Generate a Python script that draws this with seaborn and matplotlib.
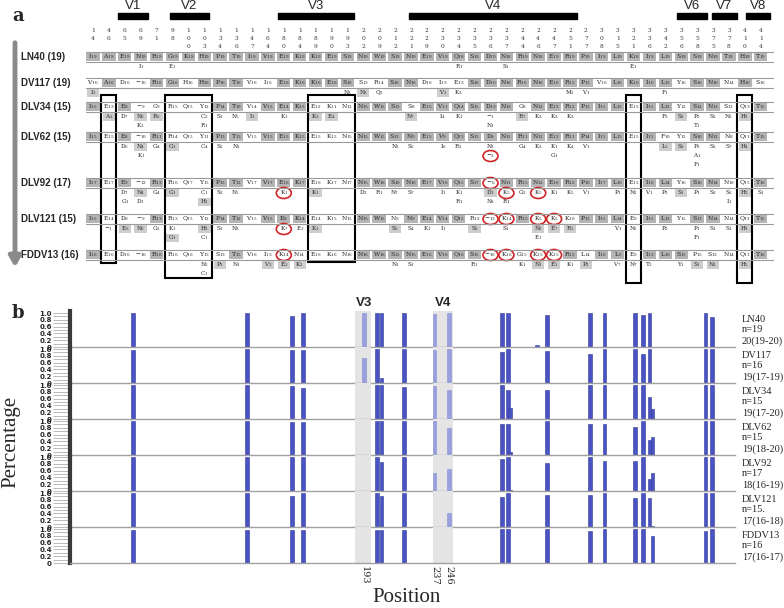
import matplotlib
matplotlib.use("Agg")
import matplotlib.pyplot as plt
import numpy as np
import pandas as pd
import seaborn as sns
from matplotlib.patches import Ellipse, Rectangle

# ---------------- panel a: alignment table ----------------
columns = [14, 46, 65, 69, 71, 98, 100, 103, 134, 136, 147, 164, 180, 184, 189, 190,
           193, 202, 209, 212, 221, 229, 230, 234, 235, 236, 237, 244, 246, 247, 251,
           277, 308, 315, 321, 336, 342, 356, 358, 375, 378, 410, 414]

strains = ["LN40 (19)", "DV117 (19)", "DLV34 (15)", "DLV62 (15)", "DLV92 (17)",
           "DLV121 (15)", "FDDV13 (16)"]

main_rows = [
    "I19 A19 E19 N19 R19 G19 K19 H19 P19 T19 I19 V19 E19 K19 K19 E19 S19 N19 W19 S19 "
    "N19 E19 V19 Q18 S19 D19 N18 R19 N19 E19 R19 P19 I19 L19 K18 I19 L19 S19 S19 N19 T19 H19 T19",
    "V16 A16 D16 -16 R16 G16 H16 H16 P16 T16 V16 I16 E16 K16 K16 E16 S16 S13 R14 S16 "
    "N16 D16 I13 E13 S16 D16 N16 R16 N16 E16 R15 P15 V16 L16 K16 I16 L15 Y16 S16 N16 N14 H16 S16",
    "I15 E13 E8 -9 G9 R15 Q15 Y12 P14 T10 V14 V15 E14 K15 E12 K11 N12 N15 W15 S15 "
    "S8 E15 V11 Q14 S15 D13 N13 G8 N12 E12 R12 P15 I15 L15 E15 I15 L12 Y12 S12 N13 S13 Q13 T15",
    "I15 E15 E8 -10 R11 R14 Q15 Y11 P13 T13 V15 V15 E15 K15 E15 K15 N15 N15 W15 S13 "
    "N9 E15 V9 Q13 S15 D9 N15 R11 N12 E13 R11 P14 I15 L15 E15 I15 F10 Y12 S10 N12 N8 Q11 T15",
    "I17 E17 E9 -12 R13 R16 Q17 Y15 P15 T12 V17 V17 E16 K17 E16 K17 N17 N15 W16 S10 "
    "N10 E17 V16 Q15 S17 -6 N11 R15 N12 E16 R12 P16 I17 L16 E15 I16 L14 Y16 S16 N14 N10 Q15 T16",
    "I15 E14 D9 -9 R13 R13 Q15 Y12 P14 T12 V15 V15 E8 K14 E14 K15 N15 N15 W15 N9 "
    "N9 E14 V14 Q15 R12 -13 K14 R15 K5 K5 K10 P15 I15 L14 E9 I15 L13 Y15 S13 N14 N14 Q12 T15",
    "I16 E16 D16 -16 R16 R16 Q16 Y13 S13 T15 V16 I13 K14 N14 E16 K16 N16 N16 W16 S15 "
    "N15 E16 V16 Q16 S15 -16 K16 G15 K15 K15 R15 L14 I16 L9 E9 I13 L16 S15 P15 S13 N14 Q11 T16",
]

# minor variants below each main row, one string per sub-row (position:residue+count)
sub_rows = [
    ["69:I1 98:E1 234:R1 237:S1 321:E1"],
    ["14:I2 193:N3 202:N3 209:Q2 230:V3 234:K3 251:M1 277:V1 342:F1"],
    ["46:A2 65:D7 69:N6 71:R6 103:C2 134:S1 136:N5 147:I1 180:K1 189:K3 190:E4 221:N7 "
     "230:I4 234:K1 236:-1 244:R7 246:K3 247:K3 251:K3 342:F3 356:S3 358:P3 375:S2 378:N2 410:H2",
     "69:K2 103:R1 236:N1 358:T1"],
    ["65:D6 69:N4 71:G4 98:G1 103:C4 134:S2 136:N2 212:N2 221:S6 230:I6 234:R2 236:N3 "
     "244:G4 246:K3 247:K1 251:K4 277:V1 342:L5 356:S3 358:P3 375:S3 378:S7 410:H4",
     "69:K1 236:-3 247:G1 358:A1",
     "358:F1"],
    ["65:D7 69:N4 71:G4 98:G1 103:C1 134:S2 136:N5 180:K1 189:K1 202:D2 209:R1 212:N7 "
     "221:S7 230:I1 234:K1 236:D3 237:K5 244:G2 246:K5 247:K1 251:K5 277:V1 315:P1 321:N2 "
     "336:V1 342:P3 356:S1 358:P1 375:S3 378:S6 410:H2 414:S1",
     "65:G1 69:D1 103:H1 234:R1 236:N8 237:R1 378:I1"],
    ["46:-1 65:E6 69:N6 71:G2 98:K1 103:H2 134:S1 136:N3 180:K7 184:E1 189:K1 212:S6 "
     "221:S4 229:K1 230:I1 235:S3 237:S1 246:N6 247:E7 251:R5 315:V1 321:N6 342:P2 358:P1 "
     "375:S1 378:S1 410:H3",
     "98:G1 103:C1 246:E1 358:F1"],
    ["103:N2 134:P3 136:N1 164:V3 180:E2 184:K2 212:N1 221:S1 235:R1 244:K1 246:N1 247:E1 "
     "251:K1 277:P2 315:V7 321:N7 336:T3 356:Y1 358:S1 375:N3 410:H5",
     "103:C1"],
]

# red circles: (strain index, sub-row level with 0 = main row, position)
circles = [(3, 2, 236),
           (4, 0, 236), (4, 1, 237), (4, 1, 246), (4, 1, 180),
           (5, 0, 236), (5, 0, 237), (5, 0, 246), (5, 0, 247), (5, 1, 180),
           (6, 0, 236), (6, 0, 237), (6, 0, 246), (6, 0, 247), (6, 0, 180)]

# black boxes: first column, last column, bottom edge (px)
boxes = [(46, 46, 263), (98, 103, 278), (189, 193, 262), (321, 321, 283), (410, 410, 283)]

# variable regions drawn above the table: label, left px, right px
v_regions = [("V1", 118, 148), ("V2", 170, 209), ("V3", 278, 354), ("V4", 409, 577),
             ("V6", 677, 707), ("V7", 712, 737), ("V8", 746, 770)]

# ---------------- panel b: residue frequency bars ----------------
bar_positions = [49, 120, 148, 155, 193, 201, 204, 218, 237, 246, 279, 283, 284, 301,
                 307, 334, 343, 362, 367, 371, 373, 406, 410]
light_positions = [193, 237, 246]

panel_names = ["LN40", "DV117", "DLV34", "DLV62", "DLV92", "DLV121", "FDDV13"]
panel_n = ["n=19", "n=16", "n=15", "n=15", "n=17", "n=15.", "n=16"]
panel_len = ["20(19-20)", "19(17-19)", "19(17-20)", "19(18-20)", "18(16-19)",
             "17(16-18)", "17(16-17)"]

heights = {
    "LN40":   [1.0, 1.0, 0.92, 1.0, 1.0, 1.0, 1.0, 1.0, 0.98, 1.0, 1.0, 1.0, 0, 0.07,
               0.95, 1.0, 1.0, 1.0, 0.95, 1.0, 0, 1.0, 0.87],
    "DV117":  [0.98, 1.0, 0.98, 0.98, 0.73, 1.0, 0.16, 1.0, 0.98, 1.0, 0.91, 1.0, 0, 0,
               0.93, 0.86, 1.0, 1.0, 0.86, 1.0, 0, 1.0, 1.0],
    "DLV34":  [0.99, 0.99, 0.97, 0.92, 0, 1.0, 1.0, 0.93, 0.97, 0.84, 0.99, 0.84, 0.32, 0,
               0.84, 1.0, 1.0, 1.0, 1.0, 0.64, 0.30, 1.0, 1.0],
    "DLV62":  [1.0, 1.0, 0.97, 0.97, 0, 1.0, 1.0, 1.0, 0.99, 0.78, 0.90, 0.90, 0.10, 0,
               1.0, 0.90, 0.90, 0.83, 1.0, 0.45, 0.53, 1.0, 1.0],
    "DLV92":  [1.0, 1.0, 1.0, 1.0, 0, 1.0, 0.85, 1.0, 0.52, 0.64, 0.94, 1.0, 0.02, 0,
               0.82, 1.0, 0.87, 0.87, 1.0, 0.34, 0.52, 1.0, 1.0],
    "DLV121": [1.0, 1.0, 0.92, 1.0, 0, 1.0, 0.90, 1.0, 0, 0.40, 0.87, 1.0, 0, 0,
               0.93, 0.93, 1.0, 0.85, 1.0, 0.85, 0.02, 1.0, 1.0],
    "FDDV13": [0.98, 0.98, 0.98, 0.98, 0, 0.98, 0.98, 0.98, 0, 0, 1.0, 1.0, 0, 0,
               1.0, 0.93, 1.0, 1.0, 1.0, 0, 0.80, 0.93, 1.0],
}
v3_span = (187.5, 197.5)
v4_span = (236.0, 248.5)
x_range = (9.7, 424.4)

# ---------------- drawing ----------------
sns.set_style("white")
plt.rcParams["font.family"] = ["DejaVu Sans"]
plt.rcParams["mathtext.fontset"] = "dejavuserif"

W, H = 784, 608
fig = plt.figure(figsize=(W / 100, H / 100), dpi=100)

# overlay axis in pixel units for panel a and free text
pa = fig.add_axes([0, 0, 1, 1])
pa.set_xlim(0, W)
pa.set_ylim(H, 0)
pa.axis("off")

col_x0, col_dx = 93.0, 15.9
row_y = [57, 83, 107, 137, 183, 219, 255]


def col_x(k):
    return col_x0 + col_dx * k


def cell_text(tok):
    res = "\u2212" if tok[0] == "-" else tok[0]
    return f"{res}$_{{{tok[1:]}}}$"


serif = "DejaVu Serif"
sans = "Liberation Sans"
pa.text(18, 16, "a", fontsize=13, fontweight="bold", family=serif, ha="center", va="center")
for label, x0, x1 in v_regions:
    pa.add_patch(Rectangle((x0, 13), x1 - x0, 6, color="black"))
    pa.text((x0 + x1) / 2, 6, label, fontsize=9.5, family=sans, ha="center", va="center")

for k, p in enumerate(columns):
    for j, d in enumerate(str(p)):
        pa.text(col_x(k), 30 + 8.2 * j, d, fontsize=4.2, family=serif, ha="center",
                va="center", color="#333")

ref = [t[0] for t in main_rows[0].split()]
for i, name in enumerate(strains):
    y = row_y[i]
    pa.text(21, y, name, fontsize=7, fontweight="bold", family=sans, ha="left",
            va="center")
    for yy in (y - 4.8, y + 4.8):
        pa.plot([86, 773], [yy, yy], color="#9a9a9a", lw=0.8)
    for k, tok in enumerate(main_rows[i].split()):
        x = col_x(k)
        if tok[0] == ref[k]:
            pa.add_patch(Rectangle((x - 6.7, y - 4.3), 13.4, 8.6, color="#b4b4b4", lw=0))
        pa.text(x, y, cell_text(tok), fontsize=4.3, family=serif, ha="center",
                va="center", color="#222")
    for lev, s in enumerate(sub_rows[i]):
        ys = y + 10 + 9 * lev
        for tok in s.split():
            pos, var = tok.split(":")
            k = columns.index(int(pos))
            x = col_x(k)
            if var[0] == ref[k]:
                pa.add_patch(Rectangle((x - 6.2, ys - 3.8), 12.4, 7.6, color="#cdcdcd", lw=0))
            pa.text(x, ys, cell_text(var), fontsize=4.1, family=serif, ha="center",
                    va="center", color="#222")

for i, lev, pos in circles:
    y = row_y[i] + (0 if lev == 0 else 10 + 9 * (lev - 1))
    pa.add_patch(Ellipse((col_x(columns.index(pos)), y), 15, 11, fill=False,
                         edgecolor="#d02525", lw=1.2))

for c0, c1, bottom in boxes:
    x0 = col_x(columns.index(c0)) - 7.5
    x1 = col_x(columns.index(c1)) + 7.5
    pa.add_patch(Rectangle((x0, 95), x1 - x0, bottom - 95, fill=False,
                           edgecolor="black", lw=1.5))

pa.annotate("", xy=(15, 270), xytext=(15, 40),
            arrowprops=dict(arrowstyle="-|>,head_width=0.35,head_length=0.6",
                            color="#8a8a8a", lw=3.5))

# panel b
records = []
for name in panel_names:
    for p, h in zip(bar_positions, heights[name]):
        records.append({"strain": name, "position": p, "height": h,
                        "kind": "light" if p in light_positions else "normal"})
df = pd.DataFrame(records)

bar_dark = "#4a53c4"
bar_light = "#9aa0de"
left_px, right_px = 70, 735
row_h, top_base = 36, 347

for i, name in enumerate(panel_names):
    base = top_base + row_h * i
    ax = fig.add_axes([left_px / W, 1 - base / H, (right_px - left_px) / W, row_h / H])
    ax.patch.set_alpha(0)
    for span in (v3_span, v4_span):
        ax.axvspan(*span, color="#e4e4e4", lw=0, zorder=0)
    sns.barplot(data=df[df["strain"] == name], x="position", y="height", hue="kind",
                palette={"normal": bar_dark, "light": bar_light}, native_scale=True,
                dodge=False, width=2.3, errorbar=None, legend=False, saturation=1,
                edgecolor="#2f3896", linewidth=0.4, ax=ax)
    light_rgb = matplotlib.colors.to_rgb(bar_light)
    for patch in ax.patches:
        if patch.get_height() == 0:
            patch.set_visible(False)
        elif np.allclose(patch.get_facecolor()[:3], light_rgb, atol=0.02):
            patch.set_edgecolor("#868cd6")
    ax.set_xlim(*x_range)
    ax.set_ylim(0, row_h / 34)
    ax.set_xlabel("")
    ax.set_ylabel("")
    for side in ("top", "right"):
        ax.spines[side].set_visible(False)
    ax.spines["left"].set_color("#3a3a3a")
    ax.spines["left"].set_linewidth(3)
    ax.spines["bottom"].set_color("#a0a0a0")
    ax.spines["bottom"].set_linewidth(1)
    ax.set_yticks([0, 0.2, 0.4, 0.6, 0.8, 1.0])
    ax.set_yticklabels(["0", "0.2", "0.4", "0.6", "0.8", "1.0"], fontsize=5,
                       fontweight="bold")
    ax.set_yticks([0.1, 0.3, 0.5, 0.7, 0.9], minor=True)
    ax.tick_params(axis="y", which="both", length=12, width=0.6, color="#b0b0b0",
                   pad=1, left=True)
    if i == len(panel_names) - 1:
        ax.set_xticks([193, 237, 246])
        ax.set_xticklabels(["193", "237", "246"], rotation=270, fontsize=7, family=serif)
        ax.tick_params(axis="x", length=0, pad=2)
    else:
        ax.set_xticks([])

    top = base - row_h
    pa.text(742, top + 8, name, fontsize=7.5, family="Liberation Serif", va="center")
    pa.text(742, top + 19, panel_n[i], fontsize=7.5, family="Liberation Serif", va="center")
    pa.text(742, top + 30, panel_len[i], fontsize=7.5, family="Liberation Serif", va="center")

pa.text(18, 313, "b", fontsize=13, fontweight="bold", family=serif, ha="center", va="center")
pa.text(364, 303, "V3", fontsize=9.5, fontweight="bold", family=sans, ha="center", va="center")
pa.text(443, 303, "V4", fontsize=9.5, fontweight="bold", family=sans, ha="center", va="center")
pa.text(11, 442, "Percentage", fontsize=15, family="Liberation Serif", rotation=90,
        ha="center", va="center")
pa.text(407, 597, "Position", fontsize=15, family="Liberation Serif", ha="center",
        va="center")

fig.savefig("out.png", dpi=100)
